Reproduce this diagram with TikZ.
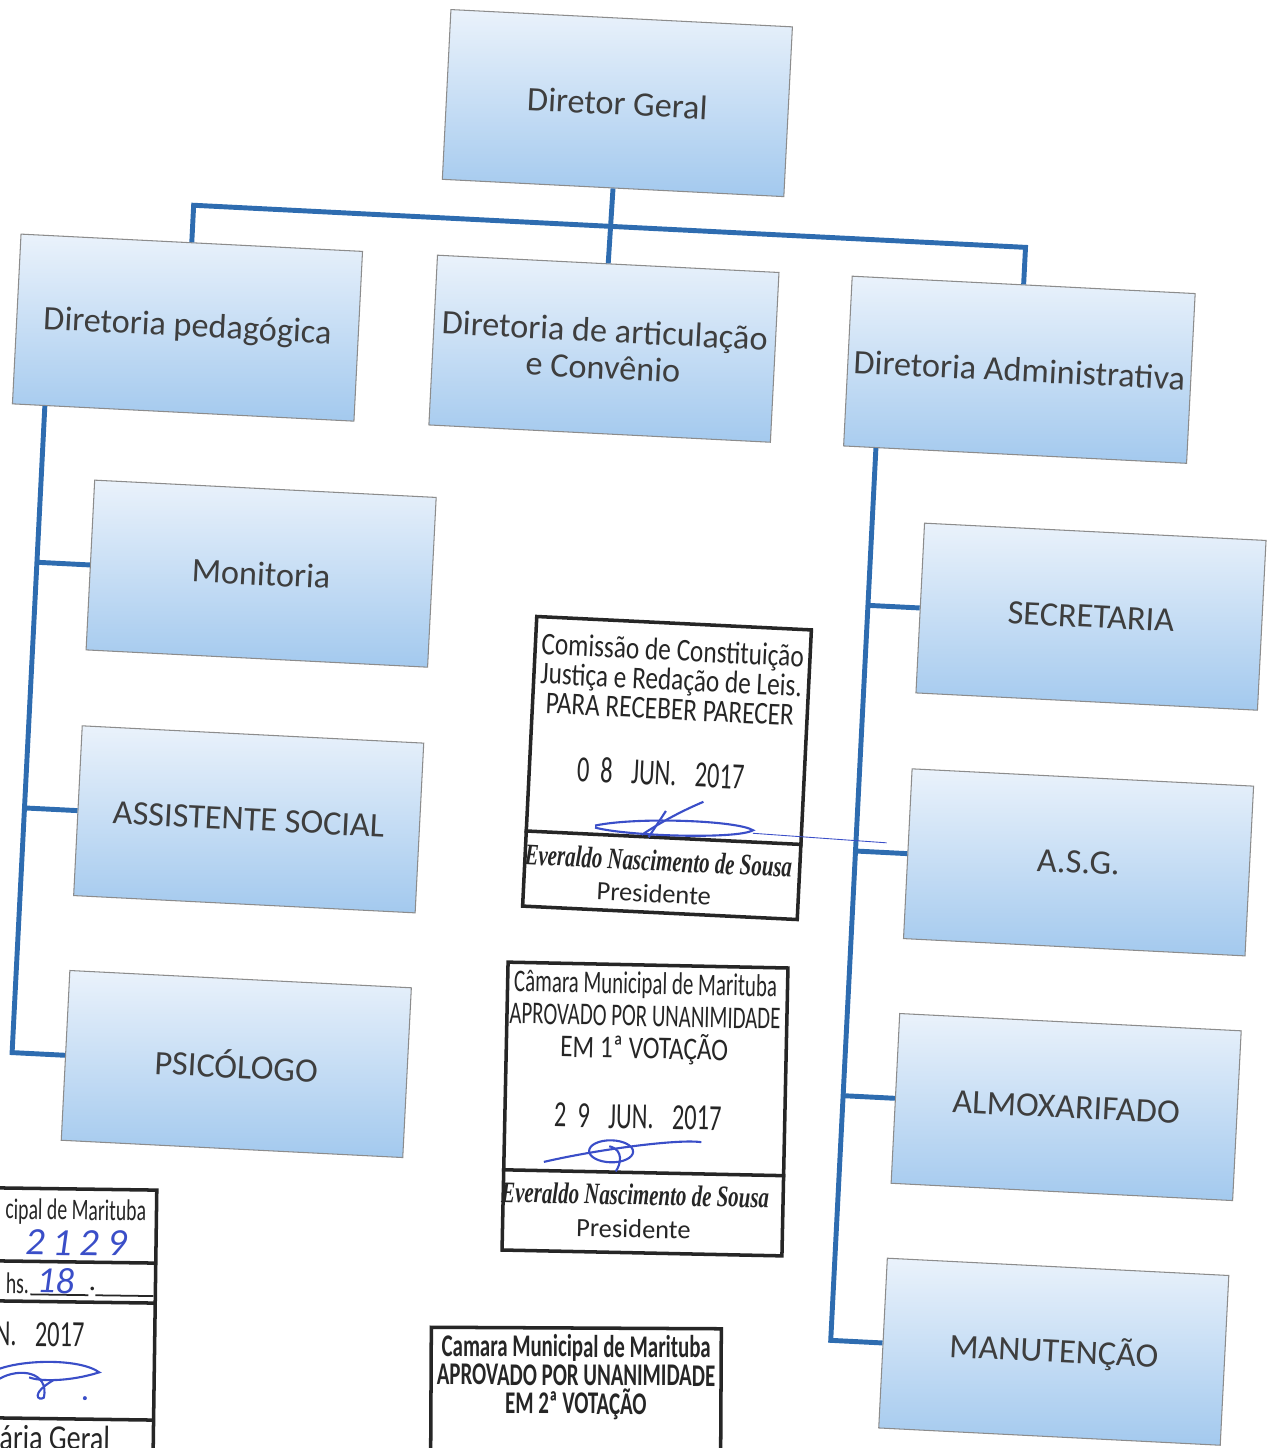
\documentclass[tikz,border=0pt]{standalone}
\usepackage{fontspec}
\setmainfont{Carlito}
\newfontfamily\stampfont[FakeStretch=0.8]{Carlito}
\newfontfamily\stampnarrow[FakeStretch=0.66]{Carlito}
\newfontfamily\namefont[FakeStretch=0.7]{Liberation Serif}
\usetikzlibrary{calc}

\definecolor{boxtop}{RGB}{234,242,251}
\definecolor{boxbot}{RGB}{163,201,238}
\definecolor{linkblue}{RGB}{46,108,176}
\definecolor{inkblue}{RGB}{58,78,200}
\definecolor{boxtext}{RGB}{62,62,62}

\tikzset{
  orgbox/.style={rectangle, draw=black!45, line width=0.6pt, top color=boxtop, bottom color=boxbot,
    minimum width=6.84cm, minimum height=3.4cm, align=center, text=boxtext,
    font=\fontsize{19.5}{21}\selectfont, transform shape},
  link/.style={draw=linkblue, line width=2.8pt},
  stampbox/.style={rectangle, draw=black!85, line width=2pt, transform shape},
  stampline/.style={draw=black!85, line width=2pt},
  stamptxt/.style={text=black!85, inner sep=0pt, align=center, transform shape},
  ink/.style={draw=inkblue, line width=1.2pt}
}

\begin{document}
\begin{tikzpicture}[x=0.02cm,y=-0.02cm]
  \useasboundingbox (0,0) rectangle (1279,1448);
  \clip (0,0) rectangle (1279,1448);
  \fill[white] (0,0) rectangle (1279,1448);

  \begin{scope}[rotate around={-2.9:(640,724)}]
    \node[orgbox] (dg) at (586,105) {Diretor Geral};
    \node[orgbox] (dped) at (168,351) {Diretoria pedagógica};
    \node[orgbox] (dart) at (585,351) {Diretoria de articulação\\e Convênio};
    \node[orgbox] (dadm) at (1001,351) {Diretoria Administrativa};
    \node[orgbox] (mon) at (254,593) {Monitoria};
    \node[orgbox] (ass) at (254,839) {ASSISTENTE SOCIAL};
    \node[orgbox] (psi) at (254,1084) {PSICÓLOGO};
    \node[orgbox] (sec) at (1085,594) {SECRETARIA};
    \node[orgbox] (asg) at (1085,840) {A.S.G.};
    \node[orgbox] (alm) at (1085,1085) {ALMOXARIFADO};
    \node[orgbox] (man) at (1085,1330) {MANUTENÇÃO};

    \draw[link] (dg.south) -- (dart.north);
    \draw[link] (dped.north) -- ++(0,-37) coordinate (bl) -- ($(dadm.south)!(bl)!(dadm.north)$) -- (dadm.north);
    \path (dped.north west) ++(33,0) coordinate (lt) (dped.south west) ++(33,0) coordinate (lv);
    \path (dadm.north west) ++(33,0) coordinate (rt) (dadm.south west) ++(33,0) coordinate (rv);
    \draw[link] (lv) -- ($(lt)!(psi.west)!(lv)$) -- (psi.west);
    \draw[link] (rv) -- ($(rt)!(man.west)!(rv)$) -- (man.west);
    \foreach \n in {mon,ass}
      \draw[link] (\n.west) -- ($(lt)!(\n.west)!(lv)$);
    \foreach \n in {sec,asg,alm}
      \draw[link] (\n.west) -- ($(rt)!(\n.west)!(rv)$);
  \end{scope}

  \begin{scope}[rotate around={-2.8:(667,768)}]
    \node[stampbox, minimum width=5.5cm, minimum height=5.8cm] (ccj) at (667,768) {};
    \draw[stampline] ($(ccj.north west)!0.738!(ccj.south west)$) -- ($(ccj.north east)!0.738!(ccj.south east)$);
    \node[stamptxt, font=\stampfont\fontsize{18}{16.8}\selectfont] (ccja) at (667,679)
      {Comissão de Constituição\\Justiça e Redação de Leis.\\PARA RECEBER PARECER};
    \node[stamptxt, font=\stampnarrow\fontsize{21}{21}\selectfont] (ccjd) at (661,773) {0\hspace{.3em}8\hspace{.5em}JUN.\hspace{.5em}2017};
    \node[stamptxt, font=\namefont\bfseries\itshape\fontsize{17}{17}\selectfont] (ccjn) at (663,861) {Everaldo Nascimento de Sousa};
    \node[stamptxt, font=\fontsize{15}{15}\selectfont] (ccjp) at (660,894) {Presidente};
    \draw[ink] (598,829) .. controls (640,818) and (740,817) .. (756,826) .. controls (740,836) and (630,838) .. (598,831);
    \draw[ink] (705,800) .. controls (680,812) and (660,825) .. (645,836);
    \draw[ink] (668,811) -- (652,838);
    \draw[inkblue, line width=0.5pt] (756,829) -- (890,832);
  \end{scope}

  \begin{scope}[rotate around={-1.2:(645,1109)}]
    \node[stampbox, minimum width=5.6cm, minimum height=5.76cm] (vota) at (645,1109) {};
    \draw[stampline] ($(vota.north west)!0.719!(vota.south west)$) -- ($(vota.north east)!0.719!(vota.south east)$);
    \node[stamptxt, font=\stampnarrow\fontsize{18}{18.4}\selectfont] (votaa) at (643,1018)
      {Câmara Municipal de Marituba\\APROVADO POR UNANIMIDADE\\{\stampfont EM 1ª VOTAÇÃO}};
    \node[stamptxt, font=\stampnarrow\fontsize{21}{21}\selectfont] (votad) at (638,1117) {2\hspace{.3em}9\hspace{.5em}JUN.\hspace{.5em}2017};
    \node[stamptxt, font=\namefont\bfseries\itshape\fontsize{17}{17}\selectfont] (votan) at (637,1195) {Everaldo Nascimento de Sousa};
    \node[stamptxt, font=\fontsize{15}{15}\selectfont] (votap) at (636,1229) {Presidente};
    \draw[ink] (545,1164) .. controls (600,1150) and (680,1138) .. (702,1141);
    \draw[ink] (612,1152) ellipse [x radius=22, y radius=11];
    \draw[ink] (610,1147) .. controls (625,1150) and (622,1165) .. (617,1172);
  \end{scope}

  \begin{scope}[rotate around={-0.3:(576,1390)}]
    \draw[stampline] (431,1460) -- (431,1328) -- (721,1328) -- (721,1460);
    \node[stamptxt, font=\stampnarrow\bfseries\fontsize{18}{16.2}\selectfont] (votb) at (576,1377)
      {Camara Municipal de Marituba\\APROVADO POR UNANIMIDADE\\EM 2ª VOTAÇÃO};
  \end{scope}

  \begin{scope}[rotate around={-0.8:(77,1318)}]
    \draw[stampline] (-10,1189) -- (155,1189) -- (155,1460);
    \draw[stampline] (-10,1262) -- (155,1262);
    \draw[stampline] (-10,1302) -- (155,1302);
    \draw[stampline] (-10,1419) -- (155,1419);
    \node[stamptxt, font=\stampnarrow\fontsize{17}{17}\selectfont, anchor=east] (prota) at (145,1212) {cipal de Marituba};
    \node[stamptxt, text=inkblue, font=\itshape\fontsize{22}{22}\selectfont] (protn) at (75,1243) {2\hspace{.2em}1\hspace{.2em}2\hspace{.2em}9};
    \node[stamptxt, font=\stampnarrow\fontsize{17}{17}\selectfont] (proth) at (17,1284) {hs.};
    \node[stamptxt, text=inkblue, font=\itshape\fontsize{21}{21}\selectfont] (prothn) at (55,1281) {18};
    \draw[black!85, line width=1pt] (30,1295) -- (88,1295) (95,1295) -- (153,1295);
    \node[stamptxt, font=\fontsize{17}{17}\selectfont] (protp) at (92,1289) {.};
    \node[stamptxt, font=\stampnarrow\fontsize{21}{21}\selectfont, anchor=east] (protd) at (85,1335) {UN.\hspace{.5em}2017};
    \draw[ink] (-5,1372) .. controls (20,1360) and (80,1358) .. (100,1372) .. controls (70,1382) and (40,1382) .. (30,1378);
    \draw[ink] (0,1380) .. controls (20,1368) and (50,1372) .. (45,1398) .. controls (40,1402) and (30,1395) .. (55,1380);
    \fill[inkblue] (86,1398) circle (2);
    \node[stamptxt, font=\stampfont\fontsize{20}{20}\selectfont, anchor=east] (protg) at (112,1438) {ária Geral};
  \end{scope}
\end{tikzpicture}
\end{document}
